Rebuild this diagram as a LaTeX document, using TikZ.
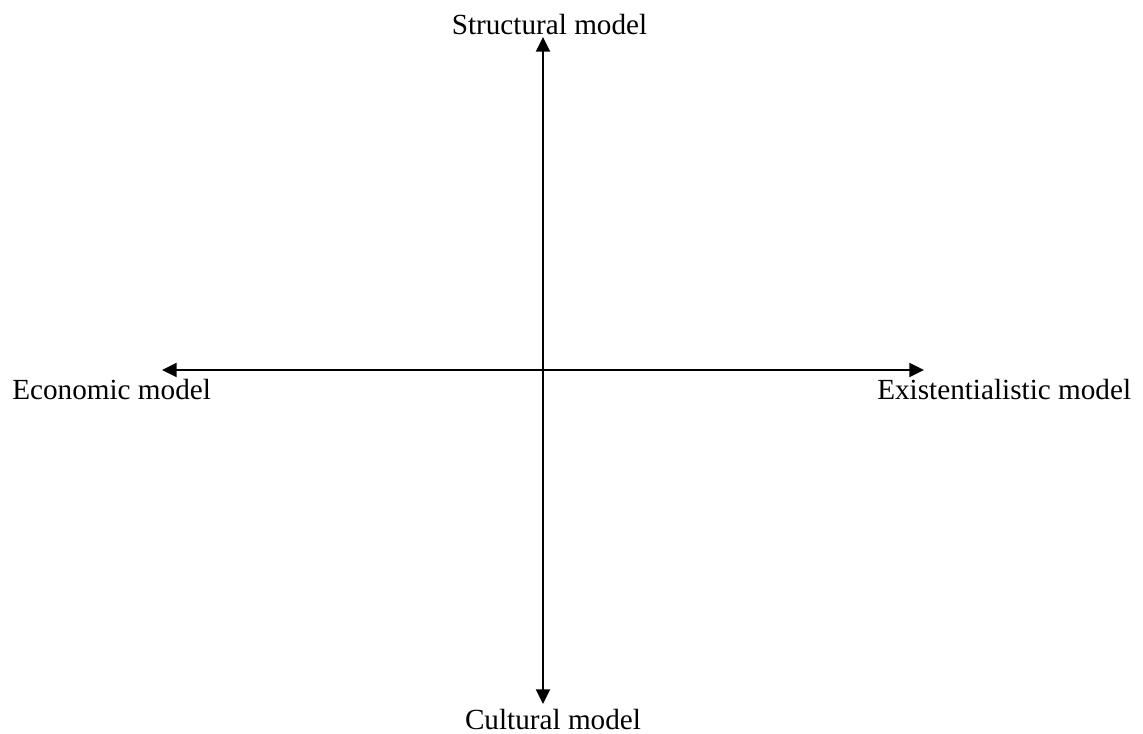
\documentclass[tikz,border=0pt]{standalone}
\usepackage{fontspec}
\setmainfont{Liberation Serif}
\usetikzlibrary{arrows.meta}
\begin{document}
\begin{tikzpicture}[x=0.75pt,y=-0.75pt,
  axis/.style={line width=1.5pt,{Triangle[length=11pt,width=10.5pt]}-{Triangle[length=11pt,width=10.5pt]}},
  lbl/.style={inner sep=0pt,anchor=base,font=\fontsize{21.9}{26}\selectfont}]
\useasboundingbox (0,0) rectangle (1143,733);
\coordinate (top) at (543,37);
\coordinate (bot) at (543,704);
\coordinate (lft) at (162,370);
\coordinate (rgt) at (924,370);
\node[lbl] (structural) at (549.5,34) {Structural model};
\node[lbl] (cultural) at (553,729) {Cultural model};
\node[lbl,anchor=base west] (economic) at (12,399) {Economic model};
\node[lbl,anchor=base west] (existential) at (877,399) {Existentialistic model};
\draw[axis] (bot) -- (top);
\draw[axis] (lft) -- (rgt);
\end{tikzpicture}
\end{document}
